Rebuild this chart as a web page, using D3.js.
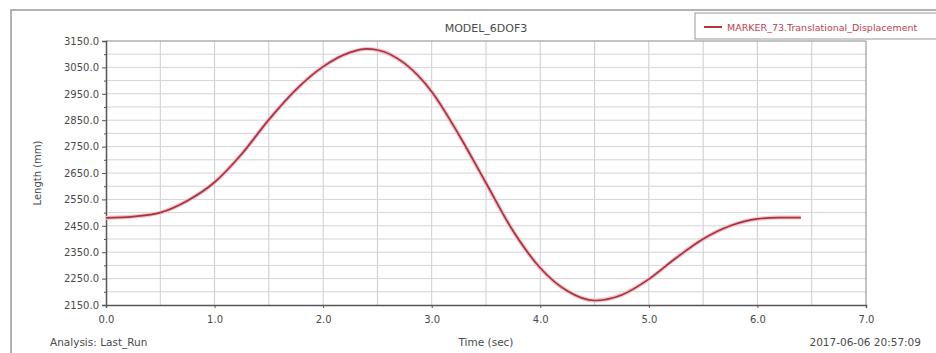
<!DOCTYPE html>
<html>
<head>
<meta charset="utf-8">
<script src="https://cdn.jsdelivr.net/npm/d3@7"></script>
<style>
  body { margin: 0; background: #fff; }
  svg { display: block; font-family: "DejaVu Sans", sans-serif; }
  .axis text { fill: #4a4a4a; font-size: 10px; font-family: "DejaVu Sans", sans-serif; }
  .axis path, .axis line { stroke: #555; }
</style>
</head>
<body>
<svg id="chart" width="936" height="353"></svg>
<script>
// data
const timeSec = [0, 0.25, 0.5, 0.75, 1.0, 1.25, 1.5, 1.75, 2.0, 2.25, 2.4, 2.5, 2.75, 3.0, 3.25, 3.5, 3.75, 4.0, 4.25, 4.5, 4.75, 5.0, 5.25, 5.5, 5.75, 6.0, 6.2, 6.4];
const lengthMm = [2480, 2485, 2500, 2545, 2615, 2722, 2852, 2966, 3053, 3107, 3120, 3116, 3065, 2958, 2795, 2612, 2430, 2290, 2203, 2167, 2188, 2248, 2328, 2400, 2450, 2476, 2481, 2481];

const xTicks = [0, 1, 2, 3, 4, 5, 6, 7];
const yTicks = [2150, 2250, 2350, 2450, 2550, 2650, 2750, 2850, 2950, 3050, 3150];

const title = "MODEL_6DOF3";
const seriesName = "MARKER_73.Translational_Displacement";
const xLabel = "Time (sec)";
const yLabel = "Length (mm)";
const analysisText = "Analysis:  Last_Run";
const stampText = "2017-06-06 20:57:09";

const svg = d3.select("#chart");
const pLeft = 106, pRight = 866, pTop = 41, pBottom = 305;

const x = d3.scaleLinear().domain([0, 7]).range([pLeft, pRight]);
const y = d3.scaleLinear().domain([2150, 3150]).range([pBottom, pTop]);

// outer frame
svg.append("path")
    .attr("d", `M11,353 V10 H936`)
    .attr("fill", "none")
    .attr("stroke", "#999")
    .attr("stroke-width", 1.5);

// grid
const xMinor = d3.range(0.5, 7, 0.5);
const yMinor = d3.range(2200, 3150, 50);

svg.append("g").selectAll("line")
    .data(xMinor)
    .enter()
    .append("line")
    .attr("x1", d => x(d)).attr("x2", d => x(d))
    .attr("y1", pTop).attr("y2", pBottom)
    .attr("stroke", "#cccccc");

svg.append("g").selectAll("line")
    .data(yMinor)
    .enter()
    .append("line")
    .attr("x1", pLeft).attr("x2", pRight)
    .attr("y1", d => y(d)).attr("y2", d => y(d))
    .attr("stroke", "#d4d4d4");

// top and right border of plot
svg.append("path")
    .attr("d", `M${pLeft},${pTop} H${pRight} V${pBottom}`)
    .attr("fill", "none")
    .attr("stroke", "#888");

// axes
const yAxis = d3.axisLeft(y)
    .tickValues(yTicks)
    .tickSize(4)
    .tickPadding(3)
    .tickFormat(d3.format(".1f"));

svg.append("g")
    .attr("class", "axis")
    .attr("transform", "translate(" + pLeft + ",0)")
    .call(yAxis)
    .call(g => g.select(".domain").attr("stroke-width", 1.5));

svg.append("g")
    .attr("class", "axis")
    .attr("transform", "translate(" + pLeft + ",0)")
    .call(d3.axisLeft(y).tickValues(d3.range(2200, 3150, 100)).tickSize(2).tickFormat(""))
    .call(g => g.select(".domain").remove());

const xAxis = d3.axisBottom(x)
    .tickValues(xTicks)
    .tickSize(3)
    .tickPadding(8)
    .tickFormat(d3.format(".1f"));

svg.append("g")
    .attr("class", "axis")
    .attr("transform", "translate(0," + pBottom + ")")
    .call(xAxis)
    .call(g => g.select(".domain").attr("stroke-width", 1.5));

// curve
const line = d3.line()
    .x((d, i) => x(timeSec[i]))
    .y(d => y(d))
    .curve(d3.curveMonotoneX);

svg.append("path")
    .datum(lengthMm)
    .attr("d", line)
    .attr("fill", "none")
    .attr("stroke", "#f4c0c6")
    .attr("stroke-width", 4);

svg.append("path")
    .datum(lengthMm)
    .attr("d", line)
    .attr("fill", "none")
    .attr("stroke", "#a8323f")
    .attr("stroke-width", 1.7);

// texts
svg.append("text")
    .attr("x", (pLeft + pRight) / 2).attr("y", 32)
    .attr("text-anchor", "middle")
    .attr("font-size", 11).attr("fill", "#4a4a4a")
    .text(title);

svg.append("text")
    .attr("transform", `translate(41,${(pTop + pBottom) / 2}) rotate(-90)`)
    .attr("text-anchor", "middle")
    .attr("font-size", 10).attr("fill", "#4a4a4a")
    .text(yLabel);

svg.append("text")
    .attr("x", (pLeft + pRight) / 2).attr("y", 346)
    .attr("text-anchor", "middle")
    .attr("font-size", 10.5).attr("fill", "#4a4a4a")
    .text(xLabel);

svg.append("text")
    .attr("x", 50).attr("y", 346)
    .attr("font-size", 10.5).attr("fill", "#4a4a4a")
    .text(analysisText);

svg.append("text")
    .attr("x", 921).attr("y", 346)
    .attr("text-anchor", "end")
    .attr("font-size", 10.5).attr("fill", "#4a4a4a")
    .text(stampText);

// legend
svg.append("rect")
    .attr("x", 695).attr("y", 13)
    .attr("width", 260).attr("height", 26)
    .attr("fill", "#fff")
    .attr("stroke", "#999");

svg.append("line")
    .attr("x1", 704).attr("x2", 722)
    .attr("y1", 27).attr("y2", 27)
    .attr("stroke", "#b73444").attr("stroke-width", 2);

svg.append("text")
    .attr("x", 727).attr("y", 30.5)
    .attr("font-size", 9.5).attr("fill", "#c0404e")
    .text(seriesName);
</script>
</body>
</html>
